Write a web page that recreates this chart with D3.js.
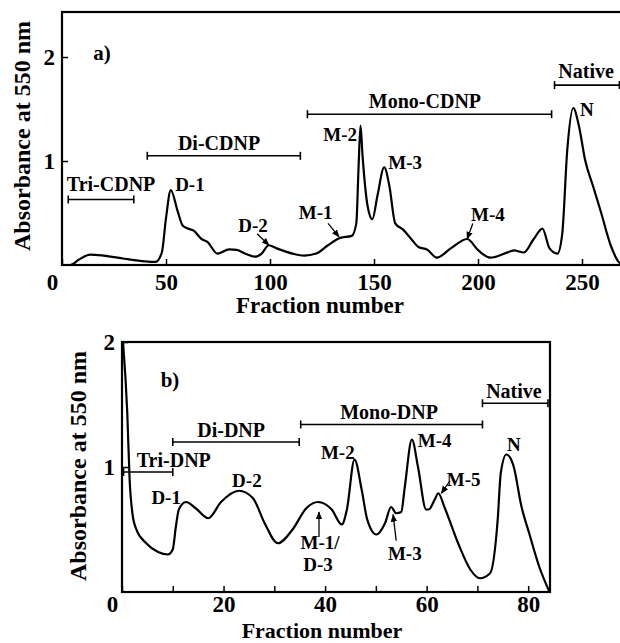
<!DOCTYPE html>
<html>
<head>
<meta charset="utf-8">
<script src="https://cdn.jsdelivr.net/npm/d3@7"></script>
<style>
  body { margin: 0; background: #fff; }
  text { font-family: "Liberation Serif", "Times New Roman", serif; font-weight: bold; fill: #000; }
</style>
</head>
<body>
<svg id="chart" width="620" height="643"></svg>
<script>
// ---- panel a) CDNP elution profile ----
const fracA = [0, 4, 8, 13.5, 20, 30, 40, 45, 48, 50, 52.3, 55.7, 58, 60.5, 63.3, 67.1, 70, 74.7, 80.4, 84, 88, 92.8, 96, 99.4,
  103.2, 110.8, 116.5, 122.2, 127.9, 133.6, 139.3, 141.5, 142.6, 143.5, 144.5, 146.9, 149.2, 151.7, 154.9, 157.4, 160.2,
  164, 167.9, 171.6, 175.5, 180.2, 186.9, 194.8, 200.2, 205.9, 215.4, 217.3, 222, 226.8, 231, 234.4, 238.2, 240.5, 242.9,
  245.8, 248.6, 251.5, 255.3, 259.1, 263.8, 267.6, 269];
const absA = [0, 0, 0.05, 0.10, 0.09, 0.06, 0.035, 0.03, 0.12, 0.45, 0.72, 0.51, 0.38, 0.35, 0.33, 0.25, 0.22, 0.11, 0.15, 0.145,
  0.11, 0.08, 0.11, 0.19, 0.16, 0.11, 0.09, 0.11, 0.19, 0.26, 0.28, 0.40, 0.95, 1.34, 1.05, 0.57, 0.44, 0.67, 0.94, 0.76, 0.40,
  0.34, 0.25, 0.17, 0.15, 0.07, 0.16, 0.25, 0.14, 0.07, 0.13, 0.14, 0.12, 0.25, 0.35, 0.16, 0.11, 0.30, 1.10,
  1.51, 1.33, 1.01, 0.76, 0.51, 0.19, 0.03, 0.01];
const xTicksA = [0, 50, 100, 150, 200, 250];
const yTicksA = [1, 2];
const bracketsA = [
  { name: "Tri-CDNP", from: 3, to: 34.5, level: 0.63, lx: 23.6, ly: 0.78 },
  { name: "Di-CDNP", from: 41, to: 114.6, level: 1.05, lx: 75.5, ly: 1.17 },
  { name: "Mono-CDNP", from: 118, to: 235.4, level: 1.45, lx: 174.5, ly: 1.58 },
  { name: "Native", from: 236.8, to: 268, level: 1.73, lx: 252, ly: 1.87 }
];
const peaksA = [
  { name: "D-1", f: 61.5, a: 0.78 }, { name: "D-2", f: 91.8, a: 0.38 }, { name: "M-1", f: 122, a: 0.51 },
  { name: "M-2", f: 133.7, a: 1.26 }, { name: "M-3", f: 165, a: 0.99 }, { name: "M-4", f: 204.8, a: 0.49 },
  { name: "N", f: 252.4, a: 1.5 }
];
const arrowsA = [
  { f0: 93.8, a0: 0.30, f1: 99.5, a1: 0.19 },
  { f0: 127.9, a0: 0.40, f1: 133.2, a1: 0.27 },
  { f0: 197.5, a0: 0.40, f1: 194.8, a1: 0.25 }
];

// ---- panel b) DNP elution profile ----
const fracB = [0.2, 1.04, 1.5, 2.05, 2.83, 4.77, 7.1, 9.05, 9.99, 10.6, 11.2, 12.6, 14.5, 17, 19.5, 23.05, 25.8, 28.1, 30.7,
  33.6, 36.3, 38.6, 41.3, 43.3, 44.3, 45.8, 47.2, 48.3, 50.1, 51.8, 53, 54, 55, 55.7, 57.1, 58.3, 59.9, 60.4, 61.6, 62.3,
  63.5, 66.2, 68.6, 70.5, 72.5, 74, 74.6, 75.7, 77.1, 78.7, 80.2, 82.2, 84.1];
const absB = [2.0, 1.43, 0.9, 0.63, 0.50, 0.39, 0.32, 0.30, 0.34, 0.52, 0.66, 0.72, 0.67, 0.59, 0.72, 0.81, 0.75, 0.55, 0.39,
  0.50, 0.67, 0.72, 0.66, 0.54, 0.66, 1.06, 0.82, 0.58, 0.46, 0.55, 0.68, 0.63, 0.64, 0.84, 1.22, 1.0, 0.66, 0.66, 0.74, 0.79,
  0.68, 0.39, 0.18, 0.11, 0.15, 0.58, 0.95, 1.10, 1.01, 0.68, 0.47, 0.20, 0.01];
const xTicksB = [0, 10, 20, 30, 40, 50, 60, 70, 80];
const xLabelsB = [0, 20, 40, 60, 80];
const yTicksB = [1, 2];
const bracketsB = [
  { name: "Tri-DNP", from: 0.3, to: 10, level: 0.96, lx: 10.2, ly: 1.06 },
  { name: "Di-DNP", from: 10, to: 34.9, level: 1.2, lx: 21.5, ly: 1.30 },
  { name: "Mono-DNP", from: 35.2, to: 71, level: 1.34, lx: 52.6, ly: 1.44 },
  { name: "Native", from: 71, to: 83.9, level: 1.51, lx: 77.2, ly: 1.61 }
];
const peaksB = [
  { name: "D-1", f: 8.7, a: 0.76 }, { name: "D-2", f: 24.6, a: 0.89 }, { name: "M-1/", f: 39, a: 0.395 },
  { name: "D-3", f: 38.6, a: 0.225 }, { name: "M-2", f: 42.5, a: 1.12 }, { name: "M-3", f: 55.7, a: 0.31 },
  { name: "M-4", f: 61.6, a: 1.21 }, { name: "M-5", f: 67.3, a: 0.90 }, { name: "N", f: 77.2, a: 1.18 }
];
const arrowsB = [
  { f0: 38.8, a0: 0.44, f1: 38.8, a1: 0.64 },
  { f0: 54, a0: 0.41, f1: 53.4, a1: 0.62 },
  { f0: 64.6, a0: 0.89, f1: 62.9, a1: 0.79 }
];

const svg = d3.select("#chart");

svg.append("defs").append("marker")
  .attr("id", "arr")
  .attr("viewBox", "0 0 10 10")
  .attr("refX", 9).attr("refY", 5)
  .attr("markerUnits", "userSpaceOnUse")
  .attr("markerWidth", 8).attr("markerHeight", 8)
  .attr("orient", "auto")
  .append("path").attr("d", "M0,1L10,5L0,9z");

function drawPanel(p) {
  const x = d3.scaleLinear().domain(p.xDomain).range(p.xRange);
  const y = d3.scaleLinear().domain(p.yDomain).range(p.yRange);
  const g = svg.append("g");

  // frame
  g.append("rect")
    .attr("x", p.xRange[0]).attr("y", p.yRange[1])
    .attr("width", p.xRange[1] - p.xRange[0])
    .attr("height", p.yRange[0] - p.yRange[1])
    .attr("fill", "none").attr("stroke", "#000").attr("stroke-width", 2.2);

  // x axis, ticks pointing inward
  const xa = g.append("g")
    .attr("transform", `translate(0,${p.yRange[0]})`)
    .call(d3.axisBottom(x).tickValues(p.xTicks).tickSizeInner(-6).tickSizeOuter(0).tickPadding(p.xPad)
      .tickFormat(d => p.xLabels.includes(d) ? d : ""));
  xa.select(".domain").remove();
  xa.attr("font-size", 23).attr("font-family", null);
  xa.selectAll("line").attr("stroke-width", 1.5);
  xa.selectAll("text").filter(d => d === 0).attr("x", -10);

  const ya = g.append("g")
    .attr("transform", `translate(${p.xRange[0]},0)`)
    .call(d3.axisLeft(y).tickValues(p.yTicks).tickFormat(d3.format("d"))
      .tickSizeInner(-6).tickSizeOuter(0).tickPadding(p.yPad));
  ya.select(".domain").remove();
  ya.attr("font-size", 23).attr("font-family", null);
  ya.selectAll("line").attr("stroke-width", 1.5);

  // axis titles
  g.append("text")
    .attr("x", p.xTitle[0]).attr("y", p.xTitle[1])
    .attr("text-anchor", "middle").attr("font-size", p.xTitleSize)
    .text("Fraction number");
  g.append("text")
    .attr("transform", `translate(${p.yTitle[0]},${p.yTitle[1]}) rotate(-90)`)
    .attr("text-anchor", "middle").attr("font-size", 24)
    .text("Absorbance at 550 nm");

  // panel letter
  g.append("text")
    .attr("x", x(p.tag.f)).attr("y", y(p.tag.a)).attr("dy", "0.35em")
    .attr("text-anchor", "middle").attr("font-size", 21)
    .text(p.tag.name);

  // elution curve
  const line = d3.line()
    .x(d => x(d[0])).y(d => y(d[1]))
    .curve(d3.curveMonotoneX);
  g.append("path")
    .datum(p.frac.map((f, i) => [f, p.abs[i]]))
    .attr("d", line)
    .attr("fill", "none").attr("stroke", "#000")
    .attr("stroke-width", 2.2).attr("stroke-linejoin", "round");

  // fraction brackets
  const br = g.selectAll(".bracket").data(p.brackets).enter().append("g");
  br.append("line")
    .attr("x1", d => x(d.from)).attr("x2", d => x(d.to))
    .attr("y1", d => y(d.level)).attr("y2", d => y(d.level))
    .attr("stroke", "#000").attr("stroke-width", 1.6);
  br.append("line")
    .attr("x1", d => x(d.from)).attr("x2", d => x(d.from))
    .attr("y1", d => y(d.level) - 4).attr("y2", d => y(d.level) + 4)
    .attr("stroke", "#000").attr("stroke-width", 1.6);
  br.append("line")
    .attr("x1", d => x(d.to)).attr("x2", d => x(d.to))
    .attr("y1", d => y(d.level) - 4).attr("y2", d => y(d.level) + 4)
    .attr("stroke", "#000").attr("stroke-width", 1.6);
  br.append("text")
    .attr("x", d => x(d.lx)).attr("y", d => y(d.ly)).attr("dy", "0.35em")
    .attr("text-anchor", "middle").attr("font-size", 20)
    .text(d => d.name);

  // peak labels
  g.selectAll(".peak").data(p.peaks).enter().append("text")
    .attr("x", d => x(d.f)).attr("y", d => y(d.a)).attr("dy", "0.35em")
    .attr("text-anchor", "middle").attr("font-size", 19)
    .text(d => d.name);

  g.selectAll(".arrow").data(p.arrows).enter().append("line")
    .attr("x1", d => x(d.f0)).attr("y1", d => y(d.a0))
    .attr("x2", d => x(d.f1)).attr("y2", d => y(d.a1))
    .attr("stroke", "#000").attr("stroke-width", 1.3)
    .attr("marker-end", "url(#arr)");
}

drawPanel({
  xDomain: [0, 270.2], xRange: [62, 624],
  yDomain: [0, 2.433], yRange: [265, 12],
  xTicks: xTicksA, xLabels: xTicksA, yTicks: yTicksA, xPad: 9, yPad: 7,
  xTitle: [320, 313], xTitleSize: 23, yTitle: [30, 136],
  tag: { name: "a)", f: 19.2, a: 2.04 },
  frac: fracA, abs: absA,
  brackets: bracketsA, peaks: peaksA, arrows: arrowsA
});

drawPanel({
  xDomain: [0, 84.3], xRange: [122, 550],
  yDomain: [0, 2], yRange: [592, 342],
  xTicks: xTicksB, xLabels: xLabelsB, yTicks: yTicksB, xPad: 4, yPad: 7,
  xTitle: [322, 638], xTitleSize: 22, yTitle: [86, 466],
  tag: { name: "b)", f: 9.45, a: 1.70 },
  frac: fracB, abs: absB,
  brackets: bracketsB, peaks: peaksB, arrows: arrowsB
});
</script>
</body>
</html>
